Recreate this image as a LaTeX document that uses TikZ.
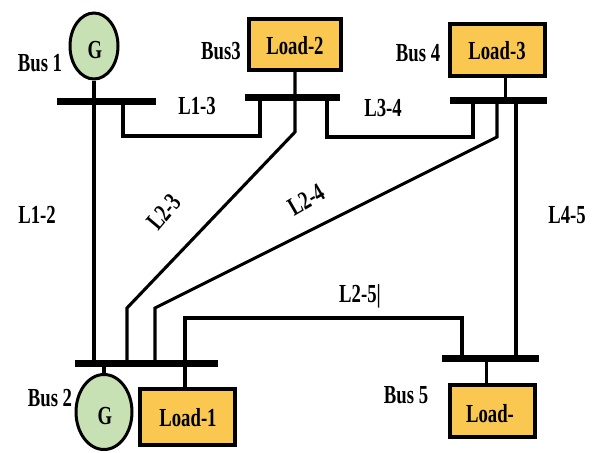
\documentclass[tikz,border=0pt]{standalone}
\usepackage{fontspec}
\usepackage{graphicx}
\usepackage{tikz}
\usepackage{xcolor}
\usetikzlibrary{shapes.geometric}
\setmainfont{Liberation Serif}

\definecolor{verdeG}{RGB}{200,225,180}
\definecolor{amarilloC}{RGB}{250,200,80}

% Texto estrecho como en la figura
\newcommand{\etq}[1]{\scalebox{0.72}[1]{#1}}

\tikzset{
    barra/.style={rectangle, fill=black, inner sep=0pt, minimum height=7pt},
    linea/.style={line width=3.1pt, line join=miter},
    gen/.style={ellipse, draw, line width=3pt, fill=verdeG, inner sep=0pt},
    carga/.style={rectangle, draw, line width=4.2pt, fill=amarilloC, inner sep=0pt},
    etiqueta/.style={inner sep=0pt, font=\fontsize{26}{28}\selectfont\bfseries}
}

\begin{document}
\begin{tikzpicture}[x=1pt, y=-1pt]
        \useasboundingbox[fill=white] (0,0) rectangle (599,452);

        % Barras de los buses
        \node[barra, minimum width=99pt] (bus1) at (106.5,101) {};
        \node[barra, minimum width=95pt] (bus3) at (292.5,97) {};
        \node[barra, minimum width=97pt] (bus4) at (498.5,100) {};
        \node[barra, minimum width=143pt] (bus2) at (146.5,363) {};
        \node[barra, minimum width=97pt] (bus5) at (490.5,358) {};

        % Generadores
        \node[gen, minimum width=48pt, minimum height=66pt] (gen1) at (94,46) {};
        \node[gen, minimum width=56pt, minimum height=75pt] (gen2) at (104,412) {};
        \node[etiqueta] at (95,50) {\etq{G}};
        \node[etiqueta] at (105,416) {\etq{G}};

        % Cargas
        \node[carga, minimum width=92pt, minimum height=51pt] (load2) at (295,44.5) {};
        \node[carga, minimum width=95pt, minimum height=52pt] (load3) at (497.5,50) {};
        \node[carga, minimum width=95pt, minimum height=56pt] (load1) at (187.5,417) {};
        \node[carga, minimum width=85pt, minimum height=52pt] (load5) at (492.5,411) {};
        \node[etiqueta] at (295,46) {\etq{Load-2}};
        \node[etiqueta] at (497,51) {\etq{Load-3}};
        \node[etiqueta] at (188,418) {\etq{Load-1}};
        \node[etiqueta] at (490,414) {\etq{Load-}};

        % Etiquetas de los buses
        \node[etiqueta] at (40,63) {\etq{Bus 1}};
        \node[etiqueta] at (221,51) {\etq{Bus3}};
        \node[etiqueta] at (418,53) {\etq{Bus 4}};
        \node[etiqueta] at (50,398) {\etq{Bus 2}};
        \node[etiqueta] at (406,395) {\etq{Bus 5}};

        % Puntos de quiebre de las lineas
        \coordinate (c13a) at (123,136);
        \coordinate (c13b) at (260,136);
        \coordinate (c34a) at (327,137);
        \coordinate (c34b) at (473,137);
        \coordinate (c23a) at (295,132);
        \coordinate (c23b) at (127,308);
        \coordinate (c24a) at (497,137);
        \coordinate (c24b) at (155,308);
        \coordinate (c25a) at (185,318);
        \coordinate (c25b) at (462,318);
        \coordinate (c45) at (516,230);

        % Conexiones de generadores y cargas
        \draw[linea] (gen1.south) -- (gen1.south |- bus1.center);
        \draw[linea] (gen2.north) -- (gen2.north |- bus2.center);
        \draw[linea] (load1.north -| c25a) -- (c25a |- bus2.center);
        \draw[linea] ([xshift=8pt]load3.south) -- ([xshift=8pt]load3.south |- bus4.center);
        \draw[linea] ([xshift=-6pt]load5.north) -- ([xshift=-6pt]load5.north |- bus5.center);

        % Lineas de transmision
        \draw[linea] (gen1.south |- bus1.center) -- (gen1.south |- bus2.center); % L1-2
        \draw[linea] (c13a |- bus1.center) -- (c13a) -- (c13b) -- (c13b |- bus3.center); % L1-3
        \draw[linea] (c34a |- bus3.center) -- (c34a) -- (c34b) -- (c34b |- bus4.center); % L3-4
        \draw[linea] (load2.south) -- (c23a) -- (c23b) -- (c23b |- bus2.center); % L2-3
        \draw[linea] (c24a |- bus4.center) -- (c24a) -- (c24b) -- (c24b |- bus2.center); % L2-4
        \draw[linea] (c25a |- bus2.center) -- (c25a) -- (c25b) -- (c25b |- bus5.center); % L2-5
        \draw[linea] (c45 |- bus4.center) -- (c45 |- bus5.center); % L4-5

        % Etiquetas de las lineas
        \node[etiqueta] at (37,215) {\etq{L1-2}};
        \node[etiqueta] at (197,106) {\etq{L1-3}};
        \node[etiqueta] at (383,108) {\etq{L3-4}};
        \node[etiqueta, rotate=50] at (164,212) {\etq{L2-3}};
        \node[etiqueta, rotate=30] at (306,200) {\etq{L2-4}};
        \node[etiqueta] at (567,215) {\etq{L4-5}};
        \node[etiqueta] at (360,296) {\etq{L2-5|}};
    \end{tikzpicture}
\end{document}
